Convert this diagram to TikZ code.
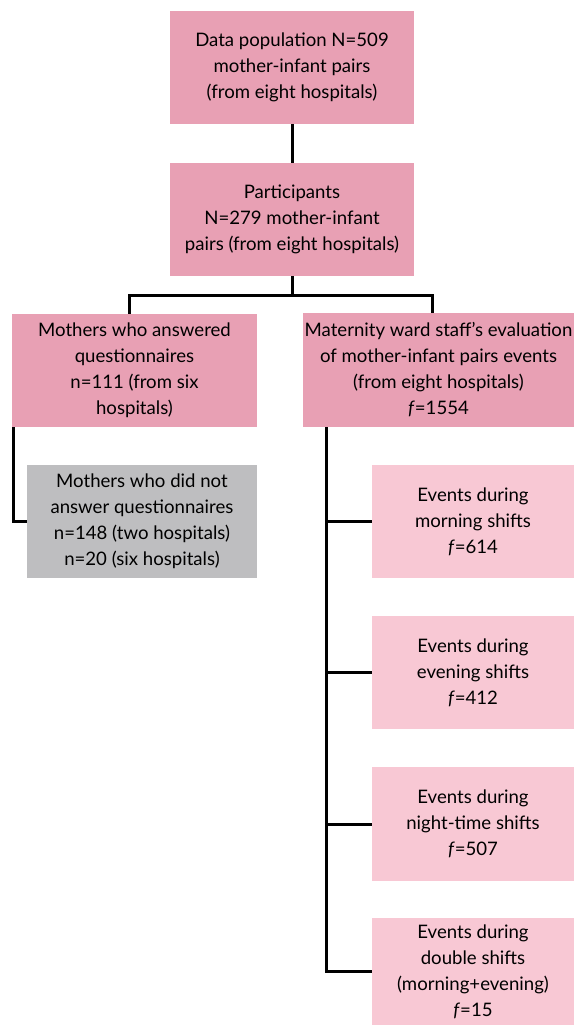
\documentclass[tikz,border=0pt]{standalone}
\usepackage{fontspec}
\setmainfont{Lato}
\definecolor{rosedark}{RGB}{232,160,180}
\definecolor{roselight}{RGB}{248,200,212}
\definecolor{greybox}{RGB}{190,190,192}
\begin{document}
\begin{tikzpicture}[x=1pt,y=-1pt]
  \tikzset{
    box/.style={fill=rosedark, align=center, inner sep=0pt, minimum width=244pt, minimum height=113pt, font=\fontsize{18.6}{26}\selectfont},
    evbox/.style={box, fill=roselight, minimum width=202pt},
    link/.style={line width=3pt}
  }
  \useasboundingbox (0,0) rectangle (574,1025);

  \node[box] (data) at (292,67.5) {Data population N=509\\ mother-infant pairs\\ (from eight hospitals)};
  \node[box] (part) at (292,219.5) {Participants\\ N=279 mother-infant\\ pairs (from eight hospitals)};

  \node[box, minimum width=245pt] (ans) at (134.5,370.5) {Mothers who answered\\ questionnaires\\ n=111 (from six\\ hospitals)};
  \node[box, minimum width=271pt, minimum height=114pt] (staff) at (438.5,370) {Maternity ward staff’s evaluation\\ of mother-infant pairs events\\ (from eight hospitals)\\ \textit{f}=1554};

  \node[box, fill=greybox, minimum width=230pt] (nores) at (142,521.5) {Mothers who did not\\ answer questionnaires\\ n=148 (two hospitals)\\ n=20 (six hospitals)};

  \node[evbox] (morn) at (473,521.5) {Events during\\ morning shifts\\ \textit{f}=614};
  \node[evbox] (even) at (473,672.5) {Events during\\ evening shifts\\ \textit{f}=412};
  \node[evbox, minimum height=114pt] (night) at (473,824) {Events during\\ night-time shifts\\ \textit{f}=507};
  \node[evbox, minimum height=107pt] (dbl) at (473,971.5) {Events during\\ double shifts\\ (morning+evening)\\ \textit{f}=15};

  \draw[link] (data) -- (part);
  \draw[link] (part.south) -- ++(0,19) coordinate (split);
  \draw[link] ([xshift=-5.5pt]ans.north) |- (split) -| ([xshift=-6.5pt]staff.north);
  \draw[link] ([xshift=2pt]ans.south west) |- (nores.west);

  \draw[link] ([xshift=24pt]staff.south west) coordinate (trunk) |- (dbl.west);
  \draw[link] (trunk) |- (morn.west);
  \draw[link] (trunk) |- (even.west);
  \draw[link] (trunk) |- (night.west);

\end{tikzpicture}
\end{document}
